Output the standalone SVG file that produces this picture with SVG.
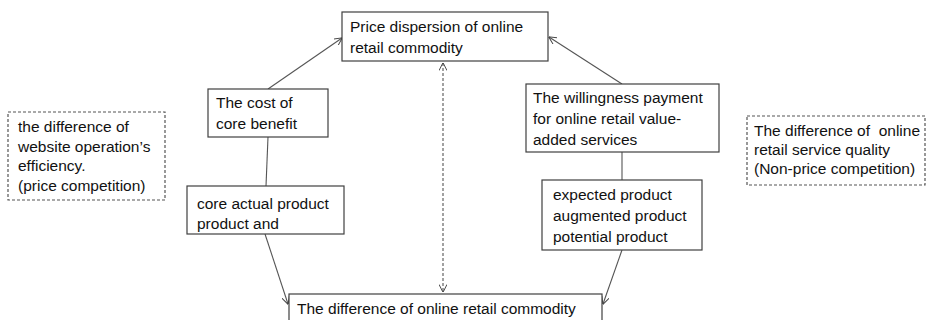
<svg xmlns="http://www.w3.org/2000/svg" width="928" height="320" viewBox="0 0 928 320">
<defs>
<marker id="arr" viewBox="0 0 10 10" refX="9.5" refY="5" markerWidth="8" markerHeight="8" markerUnits="userSpaceOnUse" orient="auto-start-reverse">
<path d="M0,0 L10,5 L0,10" fill="none" stroke="#444" stroke-width="1.2"/>
</marker>
</defs>
<style>
.box{fill:#fff;stroke:#404040;stroke-width:1.2}
.dbox{fill:#fff;stroke:#555;stroke-width:1.2;stroke-dasharray:3,2}
.t{font-family:"Liberation Sans",Arial,sans-serif;font-size:15.5px;fill:#111;white-space:pre}
.c{fill:none;stroke:#555;stroke-width:1.1}
.d{fill:none;stroke:#555;stroke-width:1.1;stroke-dasharray:3,2}
</style>
<rect width="928" height="320" fill="#fff"/>
<g id="connectors">
<line class="c" x1="268" y1="89" x2="342" y2="38" marker-end="url(#arr)"/>
<line class="c" x1="268" y1="137" x2="266" y2="186"/>
<line class="c" x1="265" y1="234" x2="288" y2="304" marker-end="url(#arr)"/>
<line class="c" x1="622" y1="84" x2="549" y2="37" marker-end="url(#arr)"/>
<line class="c" x1="622" y1="152" x2="622" y2="180"/>
<line class="c" x1="622" y1="250" x2="603" y2="304" marker-end="url(#arr)"/>
<line class="d" x1="443" y1="63" x2="443" y2="292" marker-start="url(#arr)" marker-end="url(#arr)"/>
</g>
<g id="price-dispersion">
<rect class="box" x="342" y="12" width="206" height="49"/>
<text class="t" x="350" y="32">Price dispersion of online</text>
<text class="t" x="350" y="53">retail commodity</text>
</g>
<g id="website-efficiency">
<rect class="dbox" x="8" y="112" width="157" height="88"/>
<text class="t" x="18" y="132">the difference of</text>
<text class="t" x="18" y="152">website operation’s</text>
<text class="t" x="18" y="171">efficiency.</text>
<text class="t" x="18" y="191">(price competition)</text>
</g>
<g id="cost-core-benefit">
<rect class="box" x="208" y="89" width="120" height="48"/>
<text class="t" x="216" y="108">The cost of</text>
<text class="t" x="216" y="129">core benefit</text>
</g>
<g id="core-actual-product">
<rect class="box" x="187" y="186" width="157" height="48"/>
<text class="t" x="197" y="209">core actual product</text>
<text class="t" x="197" y="229">product and</text>
</g>
<g id="willingness-payment">
<rect class="box" x="526" y="84" width="193" height="68"/>
<text class="t" x="533" y="103">The willingness payment</text>
<text class="t" x="533" y="124">for online retail value-</text>
<text class="t" x="533" y="145">added services</text>
</g>
<g id="expected-product">
<rect class="box" x="542" y="180" width="160" height="70"/>
<text class="t" x="553" y="200">expected product</text>
<text class="t" x="553" y="221">augmented product</text>
<text class="t" x="553" y="242">potential product</text>
</g>
<g id="service-quality">
<rect class="dbox" x="747" y="116" width="178" height="69"/>
<text class="t" x="754" y="136">The difference of  online</text>
<text class="t" x="754" y="155">retail service quality</text>
<text class="t" x="754" y="174">(Non-price competition)</text>
</g>
<g id="commodity-difference">
<rect class="box" x="289" y="294" width="313" height="40"/>
<text class="t" x="297" y="314">The difference of online retail commodity</text>
</g>
</svg>
